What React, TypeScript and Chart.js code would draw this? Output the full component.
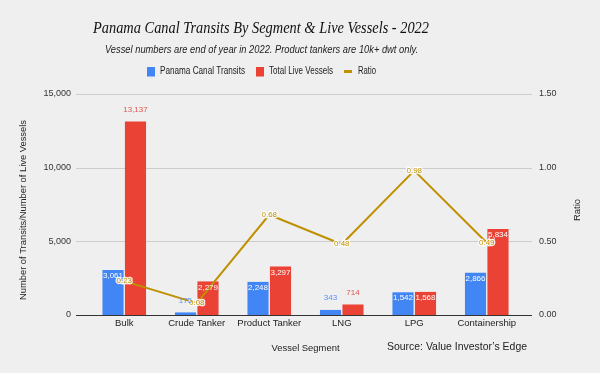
import React, { useEffect, useRef } from "react";
import { Chart, registerables } from "chart.js";

Chart.register(...registerables);

const categories = ["Bulk", "Crude Tanker", "Product Tanker", "LNG", "LPG", "Containership"];
const transits = [3061, 175, 2248, 343, 1542, 2866];
const liveVessels = [13137, 2279, 3297, 714, 1568, 5834];
const ratio = [0.23, 0.08, 0.68, 0.48, 0.98, 0.49];
const leftTicks = [0, 5000, 10000, 15000];
const rightTicks = [0, 0.5, 1.0, 1.5];

const BLUE = "#4285f4";
const RED = "#ea4335";
const GOLD = "#bf9000";
const BG = "#efefef";
const SANS = "'Liberation Sans', Arial, sans-serif";

const fmt = (v: number) => v.toLocaleString("en-US");

const gridPlugin = {
  id: "gridPlugin",
  beforeDatasetsDraw(chart: any) {
    const { ctx, chartArea, scales } = chart;
    ctx.save();
    ctx.strokeStyle = "#cccccc";
    ctx.lineWidth = 1;
    leftTicks.forEach((t) => {
      if (t === 0) return;
      const y = Math.round(scales.y.getPixelForValue(t)) + 0.5;
      ctx.beginPath();
      ctx.moveTo(chartArea.left - 12, y);
      ctx.lineTo(chartArea.right + 9, y);
      ctx.stroke();
    });
    ctx.restore();
  },
  afterDatasetsDraw(chart: any) {
    const { ctx, chartArea, scales } = chart;
    ctx.save();
    ctx.strokeStyle = "#333333";
    ctx.lineWidth = 1;
    const y = Math.round(scales.y.getPixelForValue(0)) + 0.5;
    ctx.beginPath();
    ctx.moveTo(chartArea.left - 12, y);
    ctx.lineTo(chartArea.right + 9, y);
    ctx.stroke();
    ctx.restore();
  },
};

const labelPlugin = {
  id: "labelPlugin",
  afterDatasetsDraw(chart: any) {
    const { ctx, chartArea } = chart;
    ctx.save();
    ctx.font = `8px ${SANS}`;
    ctx.textAlign = "center";
    ctx.textBaseline = "middle";
    chart.data.datasets.forEach((ds: any, di: number) => {
      const meta = chart.getDatasetMeta(di);
      if (ds.type === "line") {
        meta.data.forEach((pt: any, i: number) => {
          const txt = ds.data[i].toFixed(2);
          ctx.lineWidth = 2.5;
          ctx.strokeStyle = "rgba(255,255,255,0.9)";
          ctx.strokeText(txt, pt.x, pt.y);
          ctx.fillStyle = GOLD;
          ctx.fillText(txt, pt.x, pt.y);
        });
      } else {
        meta.data.forEach((bar: any, i: number) => {
          const txt = fmt(ds.data[i]);
          const h = bar.base - bar.y;
          const outside = h < 18 || bar.y < chartArea.top + 40;
          if (outside) {
            ctx.fillStyle = ds.labelColor;
            ctx.fillText(txt, bar.x, bar.y - 12);
          } else {
            ctx.fillStyle = "#ffffff";
            ctx.fillText(txt, bar.x, bar.y + 6, bar.width);
          }
        });
      }
    });
    ctx.restore();
  },
};

const textPlugin = {
  id: "textPlugin",
  afterDraw(chart: any) {
    const { ctx } = chart;
    ctx.save();
    // Title
    ctx.fillStyle = "#111111";
    ctx.textAlign = "center";
    ctx.textBaseline = "alphabetic";
    ctx.font = `italic 17px 'Liberation Serif', serif`;
    ctx.fillText("Panama Canal Transits By Segment & Live Vessels - 2022", 261, 33, 336);
    ctx.fillStyle = "#222222";
    ctx.font = `italic 10.5px ${SANS}`;
    ctx.fillText("Vessel numbers are end of year in 2022. Product tankers are 10k+ dwt only.", 261.5, 52.5, 313);

    // Legend
    ctx.textAlign = "left";
    ctx.textBaseline = "middle";
    ctx.font = `10.5px ${SANS}`;
    ctx.fillStyle = BLUE;
    ctx.fillRect(147, 67, 8, 9.5);
    ctx.fillStyle = "#222222";
    ctx.fillText("Panama Canal Transits", 160, 71.5, 85);
    ctx.fillStyle = RED;
    ctx.fillRect(256, 67, 8, 9.5);
    ctx.fillStyle = "#222222";
    ctx.fillText("Total Live Vessels", 269, 71.5, 64);
    ctx.strokeStyle = GOLD;
    ctx.lineWidth = 3;
    ctx.beginPath();
    ctx.moveTo(344, 71.5);
    ctx.lineTo(352, 71.5);
    ctx.stroke();
    ctx.fillStyle = "#222222";
    ctx.fillText("Ratio", 358, 71.5, 18);

    // Axis titles
    ctx.textAlign = "center";
    ctx.font = `9.5px ${SANS}`;
    ctx.fillText("Vessel Segment", 305.5, 348, 68);
    ctx.save();
    ctx.translate(23, 210);
    ctx.rotate(-Math.PI / 2);
    ctx.fillText("Number of Transits/Number of Live Vessels", 0, 0, 180);
    ctx.restore();
    ctx.save();
    ctx.translate(577, 210);
    ctx.rotate(-Math.PI / 2);
    ctx.fillText("Ratio", 0, 0, 22);
    ctx.restore();

    // Source
    ctx.textAlign = "left";
    ctx.font = `10.5px ${SANS}`;
    ctx.fillText("Source: Value Investor\u2019s Edge", 387, 347, 140);
    ctx.restore();
  },
};

export default function App() {
  const ref = useRef<HTMLCanvasElement | null>(null);

  useEffect(() => {
    if (!ref.current) return;
    const chart = new Chart(ref.current, {
      type: "bar",
      data: {
        labels: categories,
        datasets: [
          {
            type: "line",
            label: "Ratio",
            data: ratio,
            yAxisID: "y1",
            borderColor: GOLD,
            backgroundColor: GOLD,
            borderWidth: 2,
            pointRadius: 0,
            order: 0,
          } as any,
          {
            type: "bar",
            label: "Panama Canal Transits",
            data: transits,
            yAxisID: "y",
            backgroundColor: BLUE,
            labelColor: "#5a8ff0",
            categoryPercentage: 0.62,
            barPercentage: 0.94,
            order: 1,
          } as any,
          {
            type: "bar",
            label: "Total Live Vessels",
            data: liveVessels,
            yAxisID: "y",
            backgroundColor: RED,
            labelColor: "#e0594f",
            categoryPercentage: 0.62,
            barPercentage: 0.94,
            order: 1,
          } as any,
        ],
      },
      options: {
        responsive: false,
        animation: false,
        devicePixelRatio: 1,
        layout: { padding: { top: 94, left: 0, right: 0, bottom: 0 } },
        plugins: {
          legend: { display: false },
          tooltip: { enabled: false },
          title: { display: false },
        },
        scales: {
          x: {
            grid: { display: false, drawTicks: false },
            border: { display: false },
            ticks: {
              color: "#222222",
              font: { family: SANS, size: 9.5 },
              padding: 3,
              maxRotation: 0,
              autoSkip: false,
            },
            afterFit: (s: any) => {
              s.height = 58;
            },
          },
          y: {
            position: "left",
            min: 0,
            max: 15000,
            grid: { display: false, drawTicks: false },
            border: { display: false },
            ticks: {
              stepSize: 5000,
              color: "#333333",
              font: { family: SANS, size: 9 },
              padding: 17,
              callback: (v: any) => fmt(Number(v)),
            },
            afterFit: (s: any) => {
              s.width = 88;
            },
          },
          y1: {
            position: "right",
            min: 0,
            max: 1.5,
            grid: { display: false, drawTicks: false },
            border: { display: false },
            ticks: {
              stepSize: 0.5,
              color: "#333333",
              font: { family: SANS, size: 9 },
              padding: 16,
              callback: (v: any) => Number(v).toFixed(2),
            },
            afterFit: (s: any) => {
              s.width = 77;
            },
          },
        },
      } as any,
      plugins: [gridPlugin, labelPlugin, textPlugin],
    });
    return () => chart.destroy();
  }, []);

  return (
    <div
      style={{
        position: "fixed",
        left: 0,
        top: 0,
        width: 600,
        height: 373,
        background: BG,
      }}
    >
      <canvas ref={ref} width={600} height={373} style={{ display: "block", width: 600, height: 373 }} />
    </div>
  );
}
